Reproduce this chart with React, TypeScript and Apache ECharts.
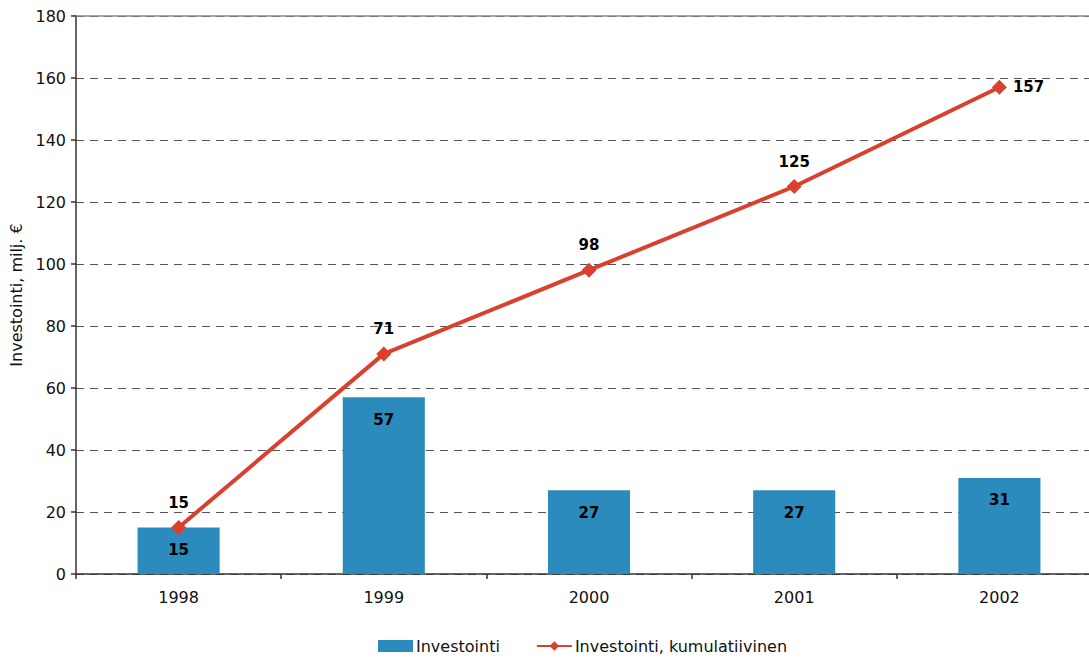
import React, { useEffect, useRef } from "react";
import * as echarts from "echarts";

const years = ["1998", "1999", "2000", "2001", "2002"];
const investment = [15, 57, 27, 27, 31];
const cumulative = [15, 71, 98, 125, 157];
const cumulativeLabelPos = ["top", "top", "top", "top", "right"];
const yTicks = [0, 20, 40, 60, 80, 100, 120, 140, 160, 180];

const FONT = "'DejaVu Sans', 'Liberation Sans', Arial, sans-serif";

export default function App() {
  const ref = useRef<HTMLDivElement>(null);

  useEffect(() => {
    document.body.style.margin = "0";
    if (!ref.current) return;
    const chart = echarts.init(ref.current, null, { renderer: "svg" });
    const yMax = yTicks[yTicks.length - 1];
    chart.setOption({
      animation: false,
      backgroundColor: "#ffffff",
      textStyle: { fontFamily: FONT },
      grid: {
        left: 76,
        top: 16,
        right: -13,
        bottom: 85,
        outerBoundsMode: "none",
        containLabel: false,
      },
      legend: {
        bottom: 0,
        left: 373,
        itemGap: 36,
        itemWidth: 35,
        itemHeight: 12,
        textStyle: { fontFamily: FONT, fontSize: 16, color: "#111", padding: [0, 0, 0, -2] },
        data: [
          { name: "Investointi", icon: "rect" },
          { name: "Investointi, kumulatiivinen" },
        ],
      },
      xAxis: {
        type: "category",
        data: years,
        boundaryGap: true,
        axisLine: { lineStyle: { color: "#333", width: 1.5 } },
        axisTick: { show: true, length: 5, lineStyle: { color: "#333", width: 1.5 } },
        axisLabel: { fontFamily: FONT, fontSize: 16, color: "#111", margin: 15 },
      },
      yAxis: {
        type: "value",
        min: yTicks[0],
        max: yMax,
        interval: yTicks[1] - yTicks[0],
        name: "Investointi, milj. €",
        nameLocation: "middle",
        nameGap: 52,
        nameTextStyle: { fontFamily: FONT, fontSize: 16, color: "#111" },
        axisLine: { show: true, lineStyle: { color: "#333", width: 1.5 } },
        axisTick: { show: true, length: 5, lineStyle: { color: "#333", width: 1.5 } },
        axisLabel: { fontFamily: FONT, fontSize: 16, color: "#111", margin: 10 },
        splitLine: {
          show: true,
          lineStyle: { color: "#555", type: [8, 6], width: 1 },
        },
      },
      series: [
        {
          name: "Investointi",
          type: "bar",
          data: investment,
          barWidth: "40%",
          itemStyle: { color: "#2b8bbc" },
          label: {
            show: true,
            position: "insideTop",
            distance: 15,
            fontFamily: FONT,
            fontSize: 15,
            fontWeight: "bold",
            color: "#000",
          },
          markLine: {
            silent: true,
            symbol: "none",
            label: { show: false },
            lineStyle: { color: "#888", type: "solid", width: 1.5 },
            data: [{ yAxis: yMax }],
          },
        },
        {
          name: "Investointi, kumulatiivinen",
          type: "line",
          data: cumulative.map((v, i) => ({
            value: v,
            label: {
              position: cumulativeLabelPos[i],
              distance: cumulativeLabelPos[i] === "right" ? 6 : 10,
            },
          })),
          symbol: "diamond",
          symbolSize: 15,
          lineStyle: { color: "#d9412e", width: 4 },
          itemStyle: { color: "#d9412e" },
          label: {
            show: true,
            fontFamily: FONT,
            fontSize: 15,
            fontWeight: "bold",
            color: "#000",
          },
          z: 5,
        },
      ],
    });
    return () => chart.dispose();
  }, []);

  return <div ref={ref} style={{ width: 1089, height: 659 }} />;
}
